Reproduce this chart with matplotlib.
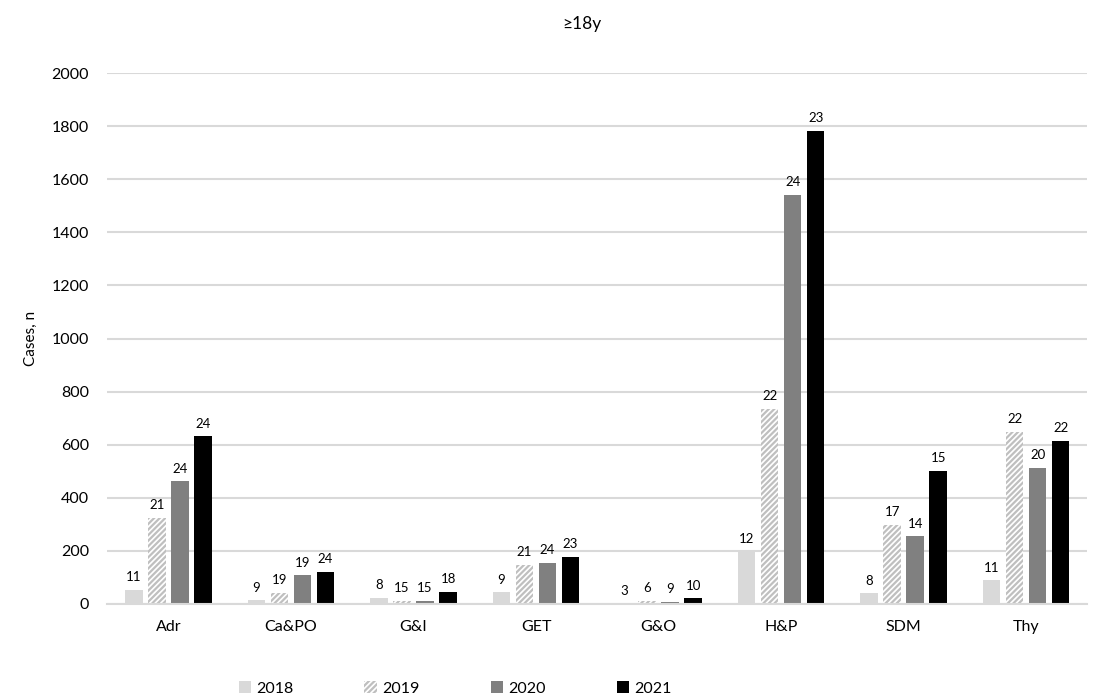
import matplotlib as mpl
import matplotlib.pyplot as plt
import numpy as np

mpl.use("Agg")

categories = ["Adr", "Ca&PO", "G&I", "GET", "G&O", "H&P", "SDM", "Thy"]
years = ["2018", "2019", "2020", "2021"]

cases_2018 = [53, 13, 23, 43, 2, 198, 40, 89]
cases_2019 = [323, 41, 12, 147, 12, 734, 298, 648]
cases_2020 = [462, 107, 10, 154, 8, 1542, 255, 512]
cases_2021 = [632, 120, 45, 178, 20, 1783, 502, 615]

labels_2018 = [11, 9, 8, 9, 3, 12, 8, 11]
labels_2019 = [21, 19, 15, 21, 6, 22, 17, 22]
labels_2020 = [24, 19, 15, 24, 9, 24, 14, 20]
labels_2021 = [24, 24, 18, 23, 10, 23, 15, 22]

values = [cases_2018, cases_2019, cases_2020, cases_2021]
labels = [labels_2018, labels_2019, labels_2020, labels_2021]

plt.rcParams["font.family"] = ["Lato", "DejaVu Sans"]
plt.rcParams["hatch.linewidth"] = 1.6

styles = [
    dict(color="#d9d9d9"),
    dict(color="white", edgecolor="#bfbfbf", hatch="//////", linewidth=0),
    dict(color="#808080"),
    dict(color="black"),
]

fig = plt.figure(figsize=(10.94, 6.98), dpi=100)
ax = fig.add_axes([0.098, 0.135, 0.896, 0.76])

x = np.arange(len(categories))
step = 0.188
width = 0.143
for i, (vals, labs, st) in enumerate(zip(values, labels, styles)):
    pos = x + (i - 1.5) * step
    bars = ax.bar(pos, vals, width, label=years[i], zorder=2, **st)
    for b, lab in zip(bars, labs):
        ax.text(b.get_x() + b.get_width() / 2, b.get_height() + 25, str(lab),
                ha="center", va="bottom", fontsize=9.5, zorder=3)

ax.set_xlim(-0.5, len(categories) - 0.5)
ax.set_ylim(0, 2000)
ax.set_yticks(range(0, 2001, 200))
ax.set_xticks(x)
ax.set_xticklabels(categories, fontsize=11.5)
ax.tick_params(axis="y", labelsize=11.5, length=0, pad=13)
ax.tick_params(axis="x", length=0, pad=12)
ax.grid(axis="y", color="#d9d9d9", linewidth=1.5, zorder=0)
for side in ["top", "right", "left"]:
    ax.spines[side].set_visible(False)
ax.spines["bottom"].set_color("#d9d9d9")
ax.spines["bottom"].set_linewidth(1.5)
ax.set_ylabel("Cases, n", fontsize=11, labelpad=10)

fig.text(0.532, 0.966, "≥18y", ha="center", va="center", fontsize=12.5)

fig.legend(loc="center", bbox_to_anchor=(0.416, 0.014), ncol=4, frameon=False,
           fontsize=11.5, handlelength=0.8, handleheight=0.8, handletextpad=0.3,
           columnspacing=4.45)

fig.savefig("out.png", dpi=100)
